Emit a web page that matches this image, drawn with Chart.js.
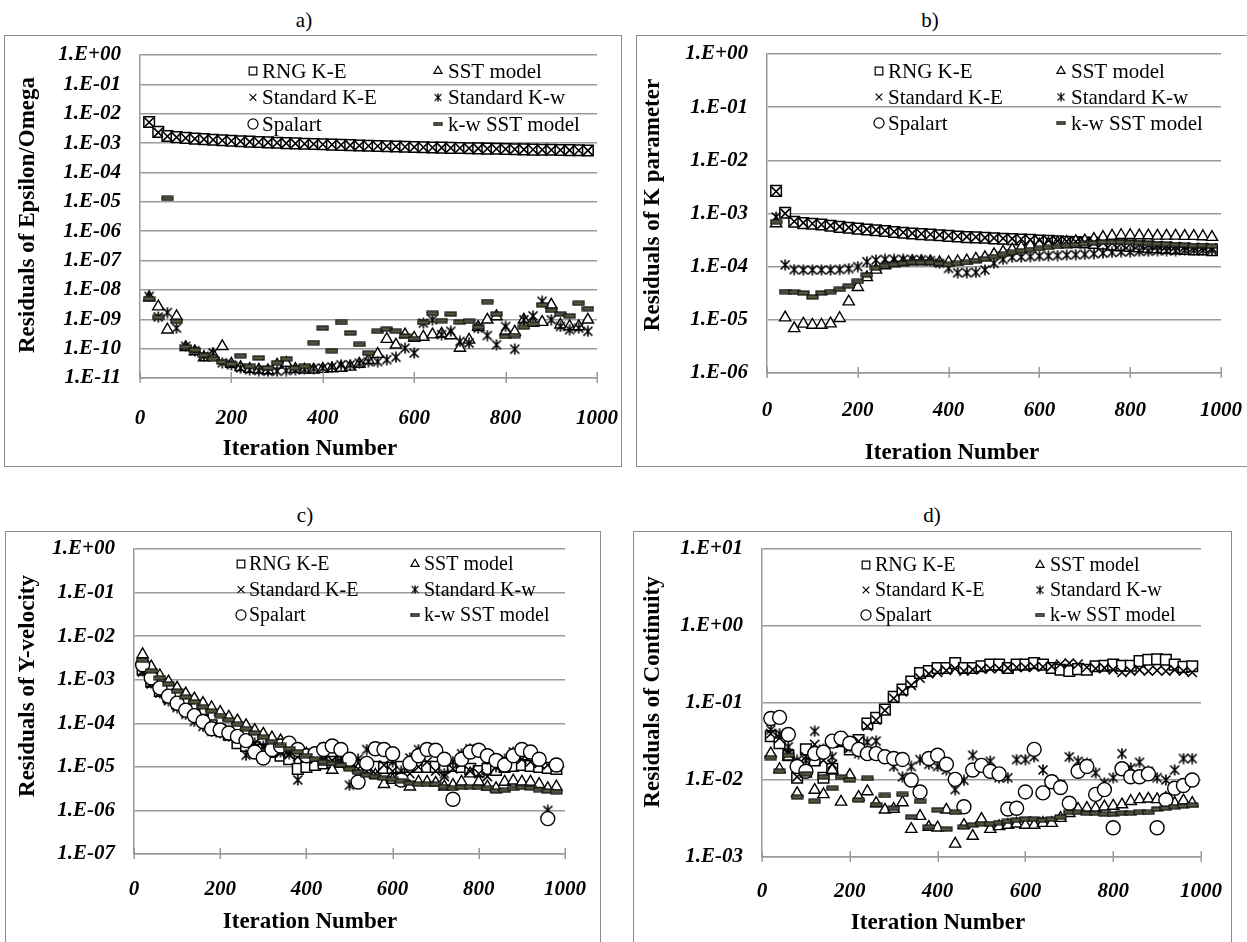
<!DOCTYPE html>
<html>
<head>
<meta charset="utf-8">
<script src="https://cdn.jsdelivr.net/npm/chart.js@4.4.1/dist/chart.umd.min.js"></script>
<style>
  body { margin: 0; background: #fff; width: 1247px; height: 942px; overflow: hidden; position: relative;
         font-family: 'Liberation Serif', 'Times New Roman', serif; }
  .box { position: absolute; border: 1px solid #8c8c8c; box-sizing: border-box; }
  canvas { position: absolute; }
  .t { position: absolute; white-space: nowrap; transform: translate(-50%, -50%); color: #000; }
  .letter { font-size: 21px; }
  .xt { font-size: 23px; font-weight: bold; }
  .yt { font-size: 23px; font-weight: bold; transform: translate(-50%, -50%) rotate(-90deg); }
</style>
</head>
<body>

<div class="box" style="left:4px;top:35px;width:618px;height:432px"></div>
<div class="box" style="left:636px;top:35px;width:620px;height:432px"></div>
<div class="box" style="left:5px;top:531px;width:596px;height:430px"></div>
<div class="box" style="left:633px;top:531px;width:599px;height:430px"></div>

<canvas id="chartA" width="618" height="431" style="left:4px;top:35px"></canvas>
<canvas id="chartB" width="611" height="431" style="left:636px;top:35px"></canvas>
<canvas id="chartC" width="595" height="411" style="left:5px;top:531px"></canvas>
<canvas id="chartD" width="598" height="411" style="left:633px;top:531px"></canvas>

<div class="t letter" style="left:304px;top:20px">a)</div>
<div class="t letter" style="left:930px;top:20px">b)</div>
<div class="t letter" style="left:305px;top:515px">c)</div>
<div class="t letter" style="left:932px;top:515px">d)</div>

<div class="t xt" style="left:310px;top:448px">Iteration Number</div>
<div class="t xt" style="left:952px;top:452px">Iteration Number</div>
<div class="t xt" style="left:310px;top:921px">Iteration Number</div>
<div class="t xt" style="left:938px;top:922px">Iteration Number</div>

<div class="t yt" style="left:27px;top:215px">Residuals of Epsilon/Omega</div>
<div class="t yt" style="left:652px;top:205px">Residuals of K parameter</div>
<div class="t yt" style="left:27px;top:686px">Residuals of Y-velocity</div>
<div class="t yt" style="left:652px;top:692px">Residuals of Continuity</div>

<script>
// ---- data ----
var seriesNames = ['RNG K-E', 'SST model', 'Standard K-E', 'Standard K-w', 'Spalart', 'k-w SST model'];

var iterations = [20,40,60,80,100,120,140,160,180,200,220,240,260,280,300,320,340,360,380,400,
  420,440,460,480,500,520,540,560,580,600,620,640,660,680,700,720,740,760,780,800,
  820,840,860,880,900,920,940,960,980];

var xTicks = [0, 200, 400, 600, 800, 1000];

var ticksEps = ['1.E+00','1.E-01','1.E-02','1.E-03','1.E-04','1.E-05','1.E-06','1.E-07','1.E-08','1.E-09','1.E-10','1.E-11'];
var ticksK = ['1.E+00','1.E-01','1.E-02','1.E-03','1.E-04','1.E-05','1.E-06'];
var ticksYv = ['1.E+00','1.E-01','1.E-02','1.E-03','1.E-04','1.E-05','1.E-06','1.E-07'];
var ticksCon = ['1.E+01','1.E+00','1.E-01','1.E-02','1.E-03'];

// a) epsilon / omega
var epsRng = [5.2e-3,2.4e-3,1.75e-3,1.6e-3,1.5e-3,1.42e-3,1.36e-3,1.3e-3,1.25e-3,1.2e-3,
  1.16e-3,1.12e-3,1.09e-3,1.06e-3,1.03e-3,1.0e-3,9.8e-4,9.5e-4,9.3e-4,9.1e-4,
  8.9e-4,8.7e-4,8.5e-4,8.3e-4,8.1e-4,7.95e-4,7.8e-4,7.65e-4,7.5e-4,7.35e-4,
  7.2e-4,7.1e-4,7.0e-4,6.9e-4,6.8e-4,6.7e-4,6.6e-4,6.5e-4,6.4e-4,6.3e-4,
  6.2e-4,6.1e-4,6.0e-4,5.95e-4,5.9e-4,5.8e-4,5.75e-4,5.7e-4,5.6e-4];
var epsSst = [5.5e-9,2.7e-9,4.4e-10,1.25e-9,1.1e-10,8e-11,5e-11,6.2e-11,1.2e-10,3e-11,
  2.3e-11,2e-11,1.9e-11,1.8e-11,2.8e-11,3.2e-11,2e-11,1.9e-11,1.9e-11,2e-11,
  2.1e-11,2.2e-11,2.4e-11,3e-11,4e-11,6.5e-11,2.1e-10,1.35e-10,3e-10,2.3e-10,
  2.5e-10,3e-10,3.2e-10,2.8e-10,1.05e-10,2e-10,5.4e-10,9.6e-10,1.25e-9,3.9e-10,
  3.7e-10,9.6e-10,7.4e-10,8e-10,3.1e-9,6.5e-10,5.7e-10,5.7e-10,9.6e-10];
var epsSke = [5.1e-3,2.3e-3,1.7e-3,1.58e-3,1.48e-3,1.4e-3,1.35e-3,1.29e-3,1.24e-3,1.19e-3,
  1.15e-3,1.11e-3,1.08e-3,1.05e-3,1.02e-3,9.9e-4,9.7e-4,9.45e-4,9.25e-4,9.05e-4,
  8.85e-4,8.65e-4,8.45e-4,8.25e-4,8.05e-4,7.9e-4,7.75e-4,7.6e-4,7.45e-4,7.3e-4,
  7.15e-4,7.05e-4,6.95e-4,6.85e-4,6.75e-4,6.65e-4,6.55e-4,6.45e-4,6.35e-4,6.25e-4,
  6.15e-4,6.05e-4,5.98e-4,5.9e-4,5.85e-4,5.78e-4,5.7e-4,5.65e-4,5.58e-4];
var epsSkw = [6.0e-9,1.2e-9,1.7e-9,5e-10,1.2e-10,8.5e-11,5.5e-11,7.1e-11,3.3e-11,2.8e-11,
  2.2e-11,1.9e-11,1.8e-11,1.7e-11,1.7e-11,1.8e-11,1.9e-11,2e-11,2.1e-11,2.2e-11,
  2.4e-11,2.8e-11,2.8e-11,3.2e-11,3.6e-11,3.6e-11,4.2e-11,5.1e-11,1.04e-10,7.1e-11,
  7.4e-10,9.6e-10,3e-10,3.9e-10,1.75e-10,1.55e-10,5e-10,2.8e-10,1.35e-10,5.7e-10,
  9.6e-11,9.6e-10,1.3e-9,4.1e-9,9.6e-10,5.7e-10,4.4e-10,5e-10,3.9e-10];
var epsSpa = [];
var epsKw = [5e-9,1.15e-9,1.3e-5,8.5e-10,1.15e-10,9e-11,6e-11,4.5e-11,3.5e-11,3e-11,
  5.7e-11,2.5e-11,4.8e-11,2.2e-11,3.3e-11,4.5e-11,2.2e-11,2.5e-11,1.6e-10,5e-10,
  8.5e-11,7.8e-10,3.4e-10,1.4e-10,7e-11,3.9e-10,4.6e-10,3.9e-10,2.7e-10,2.2e-10,
  7.8e-10,1.6e-9,9e-10,1.5e-9,8e-10,8.5e-10,5.4e-10,4e-9,1.5e-9,2.6e-10,
  2.8e-10,5.4e-10,7e-10,3.1e-9,2e-9,1.5e-9,1.3e-9,3.5e-9,2.3e-9];

// b) K parameter
var kRng = [2.66e-3,1.03e-3,7.0e-4,6.6e-4,6.4e-4,6.2e-4,5.9e-4,5.6e-4,5.4e-4,5.2e-4,
  5.0e-4,4.85e-4,4.7e-4,4.5e-4,4.35e-4,4.2e-4,4.1e-4,4.0e-4,3.9e-4,3.8e-4,
  3.7e-4,3.6e-4,3.55e-4,3.5e-4,3.4e-4,3.35e-4,3.3e-4,3.25e-4,3.2e-4,3.1e-4,
  3.05e-4,3.0e-4,2.95e-4,2.9e-4,2.85e-4,2.8e-4,2.7e-4,2.6e-4,2.5e-4,2.45e-4,
  2.4e-4,2.35e-4,2.3e-4,2.25e-4,2.2e-4,2.15e-4,2.1e-4,2.1e-4,2.05e-4];
var kSst = [6.5e-4,1.1e-5,6.9e-6,8.4e-6,8e-6,8e-6,8.5e-6,1.07e-5,2.2e-5,4.1e-5,
  6.3e-5,8.7e-5,1.05e-4,1.15e-4,1.2e-4,1.25e-4,1.25e-4,1.25e-4,1.2e-4,1.2e-4,
  1.25e-4,1.3e-4,1.4e-4,1.5e-4,1.7e-4,1.9e-4,2.1e-4,2.3e-4,2.5e-4,2.6e-4,
  2.7e-4,2.8e-4,2.9e-4,3.0e-4,3.1e-4,3.3e-4,3.6e-4,3.8e-4,3.9e-4,3.9e-4,
  3.85e-4,3.85e-4,3.8e-4,3.8e-4,3.8e-4,3.75e-4,3.75e-4,3.7e-4,3.6e-4];
var kSke = [2.6e-3,1.0e-3,7.1e-4,6.7e-4,6.45e-4,6.2e-4,5.95e-4,5.7e-4,5.45e-4,5.25e-4,
  5.05e-4,4.9e-4,4.75e-4,4.55e-4,4.4e-4,4.25e-4,4.15e-4,4.05e-4,3.95e-4,3.85e-4,
  3.75e-4,3.65e-4,3.6e-4,3.5e-4,3.45e-4,3.4e-4,3.35e-4,3.3e-4,3.2e-4,3.15e-4,
  3.1e-4,3.05e-4,3.0e-4,2.95e-4,2.9e-4,2.85e-4,2.8e-4,2.75e-4,2.7e-4,2.65e-4,
  2.6e-4,2.55e-4,2.5e-4,2.45e-4,2.4e-4,2.35e-4,2.3e-4,2.3e-4,2.25e-4];
var kSkw = [8.6e-4,1.08e-4,8.8e-5,8.7e-5,8.7e-5,8.7e-5,8.7e-5,8.8e-5,9.2e-5,1.0e-4,
  1.24e-4,1.33e-4,1.37e-4,1.37e-4,1.37e-4,1.36e-4,1.35e-4,1.3e-4,1.16e-4,9.3e-5,
  7.7e-5,7.7e-5,7.8e-5,8.7e-5,1.16e-4,1.37e-4,1.5e-4,1.52e-4,1.55e-4,1.58e-4,
  1.6e-4,1.62e-4,1.65e-4,1.68e-4,1.7e-4,1.75e-4,1.8e-4,1.85e-4,1.9e-4,1.9e-4,
  1.95e-4,1.95e-4,2.0e-4,2.0e-4,2.0e-4,2.05e-4,2.05e-4,2.05e-4,2.05e-4];
var kSpa = [];
var kKw = [7e-4,3.4e-5,3.3e-5,3.2e-5,2.7e-5,3.2e-5,3.4e-5,3.75e-5,4.3e-5,5.3e-5,
  7e-5,9.5e-5,1.05e-4,1.1e-4,1.15e-4,1.2e-4,1.2e-4,1.2e-4,1.15e-4,1.1e-4,
  1.15e-4,1.2e-4,1.3e-4,1.4e-4,1.55e-4,1.7e-4,1.85e-4,2.0e-4,2.1e-4,2.2e-4,
  2.3e-4,2.4e-4,2.5e-4,2.6e-4,2.7e-4,2.8e-4,2.9e-4,2.9e-4,2.9e-4,2.85e-4,
  2.8e-4,2.75e-4,2.7e-4,2.65e-4,2.6e-4,2.55e-4,2.5e-4,2.5e-4,2.45e-4];

// c) Y-velocity
var yvRng = [1.7e-3,9e-4,5.5e-4,4e-4,2.9e-4,2.1e-4,1.6e-4,1.2e-4,9e-5,7e-5,
  5.5e-5,3.5e-5,3e-5,2.8e-5,2.5e-5,2.2e-5,1.8e-5,1.5e-5,9e-6,1e-5,
  1.1e-5,1.2e-5,1.3e-5,1.3e-5,1.2e-5,1.1e-5,1.0e-5,1.0e-5,9.5e-6,9.5e-6,
  1.0e-5,1.0e-5,1.0e-5,1.0e-5,1.0e-5,1.0e-5,1.05e-5,1.0e-5,9e-6,8e-6,
  9e-6,8.5e-6,1.0e-5,1.05e-5,1.1e-5,1.05e-5,1.0e-5,9.5e-6,9e-6];
var yvSst = [3.8e-3,2e-3,1.25e-3,9e-4,6.5e-4,4.8e-4,3.7e-4,2.9e-4,2.3e-4,1.8e-4,
  1.4e-4,1.15e-4,9e-5,7e-5,5.7e-5,4.7e-5,4e-5,2.9e-5,2.4e-5,2e-5,
  1.6e-5,1.3e-5,8.5e-6,1.5e-5,1.1e-5,9e-6,8e-6,6.5e-6,4e-6,5e-6,
  4.5e-6,3.5e-6,4.5e-6,4.5e-6,4.3e-6,3.5e-6,3.8e-6,4.5e-6,7e-6,4.5e-6,
  3.5e-6,3.2e-6,4.5e-6,4.8e-6,4.5e-6,4.5e-6,4e-6,3.2e-6,3.5e-6];
var yvSke = [1.5e-3,8e-4,5e-4,3.5e-4,2.5e-4,1.8e-4,1.4e-4,1.1e-4,8.5e-5,7e-5,
  6e-5,5e-5,4.2e-5,3.5e-5,2.8e-5,2.4e-5,2.1e-5,1.9e-5,1.7e-5,1.6e-5,
  1.5e-5,1.5e-5,1.4e-5,1.3e-5,1.2e-5,9e-6,8e-6,7e-6,1.1e-5,8e-6,
  6e-6,7e-6,1.0e-5,1.3e-5,8e-6,6e-6,9e-6,1.2e-5,8e-6,7e-6,
  6e-6,1.0e-5,1.3e-5,1.7e-5,1.5e-5,1.3e-5,1.2e-5,1.1e-5,1.0e-5];
var yvSkw = [1.6e-3,8.5e-4,5e-4,3.3e-4,2.3e-4,1.6e-4,1.1e-4,8.5e-5,6.5e-5,6e-5,
  5e-5,4.5e-5,1.85e-5,3.5e-5,3e-5,2.5e-5,2.2e-5,2e-5,5e-6,1.8e-5,
  2e-5,2.8e-5,3e-5,1.6e-5,3.8e-6,1.5e-5,2.5e-5,2.8e-5,2.6e-5,1.3e-5,
  8e-6,1.6e-5,2.5e-5,2.7e-5,2.3e-5,7e-6,1.3e-5,2e-5,2.6e-5,2.4e-5,
  1.5e-5,1e-5,1.5e-5,2.2e-5,2.4e-5,2e-5,1.5e-5,1.0e-6,1.2e-5];
var yvSpa = [2.2e-3,1.1e-3,6.5e-4,4.2e-4,2.9e-4,2e-4,1.5e-4,1.1e-4,7.5e-5,7e-5,
  6e-5,5e-5,4e-5,2.2e-5,1.6e-5,2.5e-5,3e-5,3.5e-5,2.5e-5,1.8e-5,
  2e-5,2.5e-5,3e-5,2.5e-5,1.5e-5,4.5e-6,1.2e-5,2.6e-5,2.5e-5,2e-5,
  5e-6,1.2e-5,1.8e-5,2.5e-5,2.4e-5,1.5e-5,1.8e-6,1.5e-5,2.2e-5,2.4e-5,
  1.8e-5,1.4e-5,1.1e-5,1.8e-5,2.5e-5,2.2e-5,1.5e-5,6.5e-7,1.1e-5];
var yvKw = [2.8e-3,1.6e-3,1.1e-3,8e-4,5.5e-4,4e-4,3.1e-4,2.4e-4,1.9e-4,1.5e-4,
  1.2e-4,9.5e-5,7.5e-5,6e-5,4.8e-5,3.8e-5,3.1e-5,2.6e-5,2.2e-5,1.8e-5,
  1.5e-5,1.3e-5,1.2e-5,1.1e-5,9e-6,7.5e-6,6.5e-6,6e-6,5.5e-6,5.2e-6,
  4.8e-6,4.2e-6,4e-6,4e-6,4e-6,3.5e-6,3.2e-6,3.4e-6,3.5e-6,3.4e-6,
  3.2e-6,2.8e-6,2.9e-6,3.2e-6,3.4e-6,3.3e-6,3e-6,2.8e-6,2.7e-6];

// d) continuity
var conRng = [3.7e-2,3.0e-2,2.1e-2,1.07e-2,2.5e-2,1.8e-2,1.07e-2,1.4e-2,3.2e-2,2.5e-2,
  3.3e-2,5.4e-2,6.4e-2,8.2e-2,1.2e-1,1.5e-1,1.9e-1,2.45e-1,2.6e-1,2.85e-1,
  2.85e-1,3.3e-1,2.85e-1,2.85e-1,3.0e-1,3.15e-1,3.15e-1,2.85e-1,3.15e-1,3.15e-1,
  3.3e-1,3.15e-1,2.85e-1,2.7e-1,2.6e-1,2.75e-1,2.7e-1,3.0e-1,3.05e-1,3.15e-1,
  3.05e-1,3.05e-1,3.5e-1,3.65e-1,3.7e-1,3.65e-1,3.15e-1,2.95e-1,3.0e-1];
var conSst = [2.2e-2,1.38e-2,2.0e-2,6.7e-3,1.2e-2,7.4e-3,6.5e-3,1.35e-2,5.2e-3,1.16e-2,
  6e-3,7.1e-3,5e-3,4.1e-3,4.2e-3,5.1e-3,2.3e-3,3.4e-3,2.45e-3,2.4e-3,
  4.1e-3,1.48e-3,2.6e-3,1.87e-3,3.1e-3,2.3e-3,2.5e-3,2.6e-3,2.7e-3,2.6e-3,
  2.6e-3,2.75e-3,2.75e-3,3.2e-3,3.7e-3,4.2e-3,4.3e-3,4.3e-3,4.5e-3,4.6e-3,
  4.8e-3,5.3e-3,5.6e-3,5.7e-3,5.6e-3,5.8e-3,5e-3,5.4e-3,5e-3];
var conSke = [4e-2,3.5e-2,2.2e-2,1.1e-2,2e-2,2.9e-2,1.8e-2,1.6e-2,3e-2,2.6e-2,
  3.2e-2,5e-2,6e-2,8e-2,1.15e-1,1.4e-1,1.7e-1,2.1e-1,2.4e-1,2.5e-1,
  2.65e-1,2.8e-1,2.6e-1,2.7e-1,2.75e-1,2.8e-1,2.8e-1,2.85e-1,2.9e-1,2.9e-1,
  2.95e-1,2.95e-1,3e-1,3.2e-1,3.3e-1,3.2e-1,2.9e-1,2.8e-1,2.85e-1,2.7e-1,
  2.5e-1,2.6e-1,2.7e-1,2.6e-1,2.65e-1,2.6e-1,2.7e-1,2.6e-1,2.5e-1];
var conSkw = [4.5e-2,4e-2,2.7e-2,1.8e-2,1.8e-2,4.3e-2,2.5e-2,2e-2,3.2e-2,2.7e-2,
  2.2e-2,3.1e-2,3.2e-2,2e-2,1.5e-2,1.1e-2,1.5e-2,1.84e-2,1.6e-2,1.5e-2,
  1.35e-2,7.5e-3,9.9e-3,2.1e-2,1.6e-2,1.75e-2,1.07e-2,1.07e-2,1.84e-2,1.84e-2,
  2e-2,1.35e-2,1e-2,8.7e-3,2e-2,1.75e-2,1.65e-2,1.24e-2,9.2e-3,1.07e-2,
  2.2e-2,1.43e-2,1.7e-2,1.3e-2,1.07e-2,1e-2,1.35e-2,1.9e-2,1.9e-2];
var conSpa = [6.3e-2,6.5e-2,3.9e-2,1.5e-2,1.3e-2,2.2e-2,2.3e-2,3.2e-2,3.5e-2,3e-2,
  2.5e-2,2.2e-2,2.2e-2,2e-2,1.9e-2,1.85e-2,1e-2,7e-3,1.9e-2,2.1e-2,
  1.6e-2,1.02e-2,4.5e-3,1.35e-2,1.55e-2,1.3e-2,1.2e-2,4.2e-3,4.3e-3,7e-3,
  2.5e-2,6.8e-3,9.5e-3,8e-3,5e-3,1.3e-2,1.5e-2,6.5e-3,7.5e-3,2.4e-3,
  1.4e-2,1.1e-2,1.1e-2,1.2e-2,2.4e-3,5.5e-3,7.8e-3,8.5e-3,1.0e-2];
var conKw = [1.95e-2,1.3e-2,2.1e-2,6e-3,1.2e-2,5.3e-3,1.1e-2,7.8e-3,1.1e-2,1e-2,
  5.5e-3,1.05e-2,4.8e-3,6.3e-3,4.3e-3,6.5e-3,3.3e-3,5.3e-3,2.45e-3,4.1e-3,
  2.3e-3,3.8e-3,2.45e-3,2.6e-3,2.7e-3,2.7e-3,2.8e-3,2.9e-3,3e-3,3.1e-3,
  3.1e-3,3e-3,3.1e-3,3.3e-3,3.8e-3,3.8e-3,3.7e-3,3.7e-3,3.6e-3,3.6e-3,
  3.7e-3,3.7e-3,3.8e-3,3.8e-3,4.2e-3,4.3e-3,4.5e-3,4.6e-3,4.7e-3];

// ---- markers ----
function starMarker() {
  var c = document.createElement('canvas');
  c.width = 12; c.height = 12;
  var g = c.getContext('2d');
  g.strokeStyle = '#000';
  g.lineWidth = 1.6;
  g.beginPath();
  g.moveTo(1.5, 1.5); g.lineTo(10.5, 10.5);
  g.moveTo(10.5, 1.5); g.lineTo(1.5, 10.5);
  g.moveTo(6, 0.5); g.lineTo(6, 11.5);
  g.stroke();
  return c;
}
function dashMarker() {
  var c = document.createElement('canvas');
  c.width = 13; c.height = 6;
  var g = c.getContext('2d');
  g.fillStyle = '#56563f';
  g.fillRect(1, 1, 11, 4);
  g.strokeStyle = '#111';
  g.lineWidth = 1.2;
  g.strokeRect(1, 1, 11, 4);
  return c;
}

var markers = [
  { pointStyle: 'rect', pointRadius: 7.5, pointBackgroundColor: '#fff', pointBorderColor: '#000', pointBorderWidth: 1.5 },
  { pointStyle: 'triangle', pointRadius: 6.5, pointBackgroundColor: '#fff', pointBorderColor: '#000', pointBorderWidth: 1.4 },
  { pointStyle: 'crossRot', pointRadius: 6.5, pointBackgroundColor: '#000', pointBorderColor: '#000', pointBorderWidth: 1.6 },
  { pointStyle: starMarker(), pointRadius: 6, pointBackgroundColor: '#000', pointBorderColor: '#000', pointBorderWidth: 1.5 },
  { pointStyle: 'circle', pointRadius: 7, pointBackgroundColor: '#fff', pointBorderColor: '#000', pointBorderWidth: 1.4 },
  { pointStyle: dashMarker(), pointRadius: 6, pointBackgroundColor: '#56563f', pointBorderColor: '#111', pointBorderWidth: 1.2 }
];

// legend drawn inside the plot area, two columns
var innerLegend = {
  id: 'innerLegend',
  afterDatasetsDraw: function(chart, args, o) {
    var ctx = chart.ctx, a = chart.chartArea;
    ctx.save();
    chart.data.datasets.forEach(function(ds, i) {
      var col = i % 2, row = Math.floor(i / 2);
      var mx = a.left + o.markX[col], y = a.top + o.rowY + row * o.rowGap;
      var ps = ds.pointStyle;
      if (typeof ps === 'object') {
        ctx.drawImage(ps, mx - ps.width * 0.38, y - ps.height * 0.38, ps.width * 0.76, ps.height * 0.76);
      } else {
        ctx.fillStyle = ds.pointBackgroundColor;
        ctx.strokeStyle = ds.pointBorderColor;
        ctx.lineWidth = 1.2;
        Chart.helpers.drawPoint(ctx, { pointStyle: ps, radius: ds.pointRadius * 0.72, rotation: 0, borderWidth: 1.2 }, mx, y);
      }
      ctx.fillStyle = '#000';
      ctx.font = o.size + "px 'Liberation Serif', 'Times New Roman', serif";
      ctx.textBaseline = 'middle';
      ctx.textAlign = 'left';
      ctx.fillText(ds.label, a.left + o.textX[col], y + 1);
    });
    ctx.restore();
  }
};

// x-axis tick marks that cross the axis line
var crossTicks = {
  id: 'crossTicks',
  afterDraw: function(chart) {
    var ctx = chart.ctx, x = chart.scales.x, bottom = chart.chartArea.bottom;
    ctx.save();
    ctx.strokeStyle = '#9a9a9a';
    ctx.lineWidth = 1.5;
    ctx.beginPath();
    xTicks.forEach(function(v) {
      var px = Math.round(x.getPixelForValue(v)) + 0.25;
      ctx.moveTo(px, bottom - 6);
      ctx.lineTo(px, bottom + 5);
    });
    ctx.stroke();
    ctx.restore();
  }
};

var tickFont = { family: "'Liberation Serif', 'Times New Roman', serif", size: 21, style: 'italic', weight: 'bold' };

function makePanel(id, series, yLabels, opt) {
  var yVals = yLabels.map(function(s) { return Number(s.replace('.E', 'e')); });
  var asc = yVals.slice().sort(function(p, q) { return p - q; });
  return new Chart(document.getElementById(id), {
    type: 'scatter',
    data: {
      datasets: seriesNames.map(function(name, i) {
        var m = markers[i];
        return {
          label: name,
          data: series[i].map(function(v, j) { return { x: iterations[j], y: v }; }),
          order: 6 - i,
          pointStyle: m.pointStyle,
          pointRadius: m.pointRadius,
          pointBackgroundColor: m.pointBackgroundColor,
          pointBorderColor: m.pointBorderColor,
          pointBorderWidth: m.pointBorderWidth,
          showLine: false,
          clip: false
        };
      })
    },
    options: {
      responsive: false,
      animation: false,
      events: [],
      layout: { padding: { top: opt.top, right: opt.right, left: 0, bottom: 0 } },
      plugins: {
        legend: { display: false },
        tooltip: { enabled: false },
        innerLegend: opt.legend
      },
      scales: {
        x: {
          type: 'linear', min: 0, max: 1000,
          afterBuildTicks: function(s) { s.ticks = xTicks.map(function(v) { return { value: v }; }); },
          afterFit: function(s) { s.height = opt.xh; s.paddingLeft = 0; s.paddingRight = 0; },
          grid: { display: false },
          border: { display: true, color: '#9a9a9a', width: 1.5 },
          ticks: { padding: opt.xpad + 6, color: '#000', font: tickFont, maxRotation: 0, autoSkip: false,
                   callback: function(v) { return String(v); } }
        },
        y: {
          type: 'logarithmic', min: asc[0], max: asc[asc.length - 1],
          afterBuildTicks: function(s) { s.ticks = asc.map(function(v) { return { value: v }; }); },
          afterFit: function(s) { s.width = opt.yw; s.paddingTop = 0; s.paddingBottom = 0; },
          grid: { color: '#9a9a9a', lineWidth: 1.5, drawTicks: false },
          border: { display: true, color: '#9a9a9a', width: 1.5 },
          ticks: { padding: 19, color: '#000', font: tickFont, autoSkip: false,
                   callback: function(v) { return yLabels[yVals.indexOf(v)]; } }
        }
      }
    },
    plugins: [innerLegend, crossTicks]
  });
}

makePanel('chartA', [epsRng, epsSst, epsSke, epsSkw, epsSpa, epsKw], ticksEps,
  { top: 20, right: 25, yw: 136, xh: 88, xpad: 14,
    legend: { markX: [113, 298], textX: [122, 308], rowY: 16, rowGap: 26.5, size: 21 } });
makePanel('chartB', [kRng, kSst, kSke, kSkw, kSpa, kKw], ticksK,
  { top: 19, right: 26, yw: 131, xh: 93, xpad: 11,
    legend: { markX: [112, 294], textX: [121, 304], rowY: 17, rowGap: 26, size: 21 } });
makePanel('chartC', [yvRng, yvSst, yvSke, yvSkw, yvSpa, yvKw], ticksYv,
  { top: 18, right: 35, yw: 129, xh: 88, xpad: 9,
    legend: { markX: [107, 281], textX: [115, 290], rowY: 15, rowGap: 25.5, size: 20 } });
makePanel('chartD', [conRng, conSst, conSke, conSkw, conSpa, conKw], ticksCon,
  { top: 18, right: 30, yw: 129, xh: 85, xpad: 8,
    legend: { markX: [104, 278], textX: [113, 288], rowY: 16, rowGap: 25, size: 20 } });
</script>
</body>
</html>
